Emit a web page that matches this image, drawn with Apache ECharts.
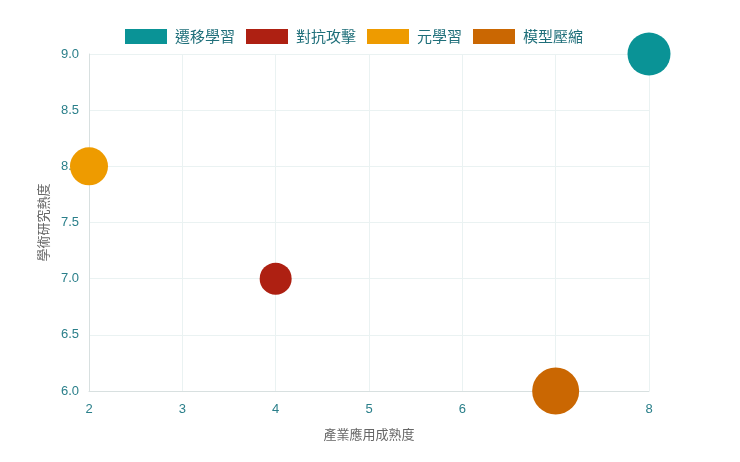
<!DOCTYPE html>
<html lang="zh-Hant">
<head>
    <meta charset="UTF-8">
    <title>研究熱度與產業成熟度</title>
    <script src="https://cdn.jsdelivr.net/npm/echarts@6/dist/echarts.min.js"></script>
</head>
<body style="margin: 0">
    <div id="container" style="width: 740px; height: 462px"></div>
    <script type="text/javascript">
        // data
        var names = ['遷移學習', '對抗攻擊', '元學習', '模型壓縮'];
        var industry = [8, 4, 2, 7];      // 產業應用成熟度
        var research = [9, 7, 8, 6];      // 學術研究熱度
        var bubbleSize = [43, 32, 38, 47]; // diameter in px
        var colors = ['#0a9396', '#ae2012', '#ee9b00', '#ca6702'];

        var font = '"Noto Sans CJK TC", "Noto Sans", sans-serif';
        var tickFont = '"Liberation Sans", Arial, sans-serif';

        var myChart = echarts.init(document.getElementById('container'), null, { renderer: 'canvas' });

        var series = names.map(function (n, i) {
            return {
                name: n,
                type: 'scatter',
                clip: false,
                z: 5,
                itemStyle: { color: colors[i], opacity: 1 },
                symbolSize: function (v) { return v[2]; },
                data: [[industry[i], research[i], bubbleSize[i]]]
            };
        });

        var option = {
            animation: false,
            color: colors,
            textStyle: { fontFamily: font },
            legend: {
                top: 24,
                left: 120,
                icon: 'rect',
                itemWidth: 42,
                itemHeight: 15,
                itemGap: 11,
                textStyle: {
                    color: '#1f6f7a', fontSize: 15, fontFamily: font,
                    padding: [0, 0, 0, 3]
                },
                data: names
            },
            grid: { left: 89, right: 91, top: 54, bottom: 71 },
            xAxis: {
                type: 'value',
                min: 2, max: 8, interval: 1,
                name: '產業應用成熟度',
                nameLocation: 'middle',
                nameGap: 37,
                nameTextStyle: { color: '#666', fontSize: 13, fontFamily: font },
                axisLine: { show: true, lineStyle: { color: '#d8e0e0' } },
                axisTick: { show: false },
                axisLabel: { color: '#2a7f8a', fontSize: 13, margin: 12, fontFamily: tickFont },
                splitLine: { show: true, lineStyle: { color: '#eaf2f2' } }
            },
            yAxis: {
                type: 'value',
                min: 6, max: 9, interval: 0.5,
                name: '學術研究熱度',
                nameLocation: 'middle',
                nameGap: 29,
                nameTextStyle: { color: '#666', fontSize: 13, fontFamily: font },
                axisLine: { show: true, lineStyle: { color: '#d8e0e0' } },
                axisTick: { show: false },
                axisLabel: {
                    color: '#2a7f8a', fontSize: 13, margin: 10, fontFamily: tickFont,
                    formatter: function (v) { return v.toFixed(1); }
                },
                splitLine: { show: true, lineStyle: { color: '#eaf2f2' } }
            },
            series: series
        };

        myChart.setOption(option);
        window.addEventListener('resize', myChart.resize);
    </script>
</body>
</html>
